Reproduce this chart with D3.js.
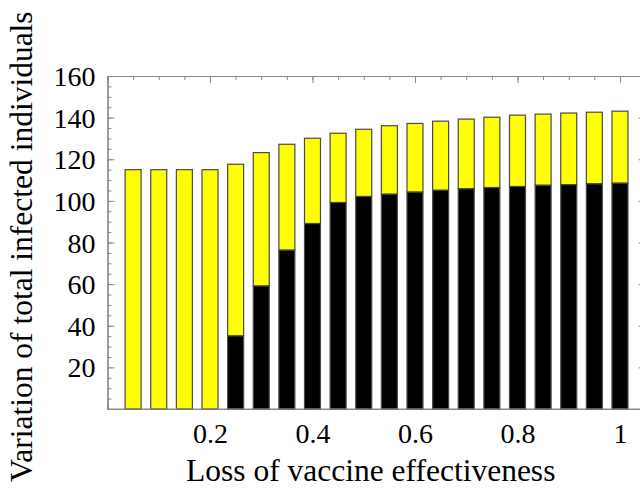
<!DOCTYPE html>
<html>
<head>
<meta charset="utf-8">
<script src="https://cdn.jsdelivr.net/npm/d3@7"></script>
<style>
html,body{margin:0;padding:0;background:#fff;}
svg{display:block;}
text{font-family:"Liberation Serif","Times New Roman",serif;fill:#000;}
</style>
</head>
<body>
<svg id="chart" width="640" height="488"></svg>
<script>
// ---- data ----
const lossValues = [0.05,0.10,0.15,0.20,0.25,0.30,0.35,0.40,0.45,0.50,0.55,0.60,0.65,0.70,0.75,0.80,0.85,0.90,0.95,1.00];
const totalInfected = [115,115,115,115,117.6,123.2,127.2,130.1,132.5,134.4,136.1,137.2,138.3,139.3,140.2,141.2,141.7,142.2,142.6,143.1];
const blackPart = [0,0,0,0,35.1,59.1,76.3,89.1,99.2,102.1,103.2,104.2,105.1,105.8,106.4,106.9,107.5,107.8,108.2,108.5];
const xTickValues = [0.2,0.4,0.6,0.8,1];
const xTickLabels = ["0.2","0.4","0.6","0.8","1"];
const yTickValues = [20,40,60,80,100,120,140,160];
const yTickLabels = ["20","40","60","80","100","120","140","160"];
const xTitle = "Loss of vaccine effectiveness";
const yTitle = "Variation of total infected individuals";

// ---- layout ----
const svg = d3.select("#chart");
const pLeft = 107.5, pRight = 645.6, pTop = 76, pBottom = 409;
const x = d3.scaleLinear().domain([0, 1.05]).range([pLeft, pRight]);
const y = d3.scaleLinear().domain([0, 160]).range([pBottom, pTop]);
const frameColor = "#8a8a8a";
const fontSize = 28;
const titleSize = 31.5;
const serif = '"Liberation Serif","Times New Roman",serif';

// minor tick values
const xMinor = d3.range(1, 21).map(i => +(i * 0.05).toFixed(2));
const yMinor = d3.range(1, 32).map(i => i * 5);

function styleAxis(g) {
  g.attr("font-family", serif);
  g.select(".domain").attr("stroke", frameColor).attr("stroke-width", 1.2);
  g.selectAll(".tick line").attr("stroke", frameColor).attr("stroke-width", 1);
}

// minor ticks
svg.append("g").attr("transform", `translate(${pLeft},0)`)
  .call(d3.axisLeft(y).tickValues(yMinor).tickSize(-4).tickFormat(""))
  .call(styleAxis);
svg.append("g").attr("transform", `translate(${pRight},0)`)
  .call(d3.axisRight(y).tickValues(yMinor).tickSize(-4).tickFormat(""))
  .call(styleAxis);
svg.append("g").attr("transform", `translate(0,${pTop})`)
  .call(d3.axisTop(x).tickValues(xMinor).tickSize(-4).tickFormat(""))
  .call(styleAxis);
svg.append("g").attr("transform", `translate(0,${pBottom})`)
  .call(d3.axisBottom(x).tickValues(xMinor).tickSize(-4).tickFormat(""))
  .call(styleAxis);

// major ticks with labels
const yAxis = svg.append("g").attr("transform", `translate(${pLeft},0)`)
  .call(d3.axisLeft(y).tickValues(yTickValues).tickSize(-7).tickPadding(12)
    .tickFormat((d, i) => yTickLabels[i]))
  .call(styleAxis);
yAxis.selectAll("text").attr("font-size", fontSize).attr("dy", "0.34em")
  .style("font-family", serif);

svg.append("g").attr("transform", `translate(${pRight},0)`)
  .call(d3.axisRight(y).tickValues(yTickValues).tickSize(-7).tickFormat(""))
  .call(styleAxis);
svg.append("g").attr("transform", `translate(0,${pTop})`)
  .call(d3.axisTop(x).tickValues(xTickValues).tickSize(-7).tickFormat(""))
  .call(styleAxis);

const xAxis = svg.append("g").attr("transform", `translate(0,${pBottom})`)
  .call(d3.axisBottom(x).tickValues(xTickValues).tickSize(-7).tickPadding(14)
    .tickFormat((d, i) => xTickLabels[i]))
  .call(styleAxis);
xAxis.selectAll("text").attr("font-size", fontSize).attr("dy", "0.71em")
  .style("font-family", serif);

// ---- bars ----
const barW = x(0.0312) - x(0);
const rows = lossValues.map((v, i) => ({x: v, total: totalInfected[i], black: blackPart[i]}));

const barG = svg.append("g");
barG.selectAll("rect.yel").data(rows).join("rect")
  .attr("class", "yel")
  .attr("x", d => x(d.x) - barW / 2)
  .attr("width", barW)
  .attr("y", d => y(d.total))
  .attr("height", d => y(d.black) - y(d.total))
  .attr("fill", "#ffff00")
  .attr("stroke", "#4a4a4a")
  .attr("stroke-width", 1.2);
barG.selectAll("rect.blk").data(rows.filter(d => d.black > 0)).join("rect")
  .attr("class", "blk")
  .attr("x", d => x(d.x) - barW / 2)
  .attr("width", barW)
  .attr("y", d => y(d.black))
  .attr("height", d => y(0) - y(d.black))
  .attr("fill", "#000")
  .attr("stroke", "#4a4a4a")
  .attr("stroke-width", 1.2);

// bottom frame line redrawn over bars
svg.append("line").attr("x1", pLeft).attr("x2", pRight).attr("y1", pBottom).attr("y2", pBottom)
  .attr("stroke", frameColor).attr("stroke-width", 1.2);

// ---- titles ----
svg.append("text")
  .attr("x", 186).attr("y", 481)
  .attr("text-anchor", "start")
  .attr("font-size", titleSize)
  .style("font-family", serif)
  .text(xTitle);
svg.append("text")
  .attr("transform", "translate(32,482) rotate(-90)")
  .attr("text-anchor", "start")
  .attr("font-size", titleSize)
  .style("font-family", serif)
  .text(yTitle);
</script>
</body>
</html>
